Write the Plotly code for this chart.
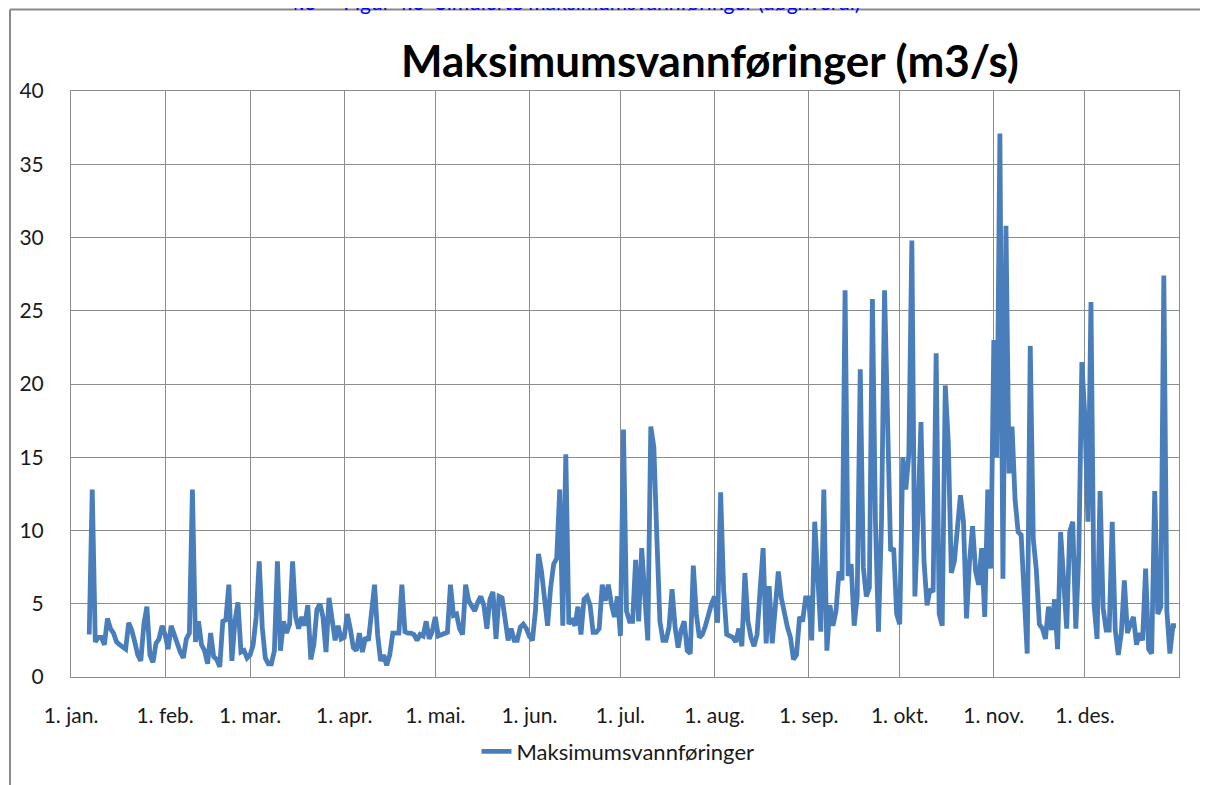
import pandas as pd
import plotly.graph_objects as go

# Daily maximum discharge (m3/s); series starts 7 Jan
jan = [2.9, 12.8, 2.4, 2.7, 2.7, 2.2, 4.0, 3.3, 3.0, 2.4, 2.2, 2.0, 1.9, 3.7, 3.2, 2.4,
       1.5, 1.1, 3.6, 4.8, 1.5, 1.0, 2.3, 2.6, 3.5]
feb = [2.9, 1.9, 3.5, 2.9, 2.1, 1.7, 1.3, 2.6, 3.0, 12.8, 2.4, 3.8, 2.2, 1.8, 0.9, 3.0,
       1.4, 1.2, 0.7, 3.8, 3.9, 6.3, 1.1, 3.8, 5.1, 1.7, 1.8, 1.3]
mar = [1.5, 2.2, 4.1, 7.9, 3.4, 1.3, 0.9, 0.9, 1.8, 7.9, 1.8, 3.8, 3.0, 3.6, 7.9, 4.1,
       3.3, 4.1, 3.5, 4.9, 1.2, 2.2, 4.6, 5.0, 4.1, 1.7, 5.4, 3.6, 2.5, 3.5, 2.6]
apr = [2.7, 4.3, 3.3, 2.0, 1.8, 3.0, 1.7, 2.7, 2.5, 4.5, 6.3, 2.9, 1.1, 1.5, 0.8, 1.5,
       3.0, 3.0, 3.0, 6.3, 3.1, 3.0, 3.0, 2.9, 2.5, 2.9, 2.8, 3.8, 2.6, 3.1]
mai = [4.1, 2.8, 2.9, 3.0, 3.05, 6.3, 4.2, 4.3, 3.3, 2.9, 6.3, 5.2, 4.9, 4.5, 5.1, 5.5,
       4.9, 3.3, 5.3, 5.8, 2.6, 5.5, 5.4, 4.1, 2.5, 3.3, 2.5, 2.5, 3.4, 3.6, 3.3]
jun = [2.8, 2.5, 4.5, 8.4, 7.2, 5.2, 3.5, 6.1, 7.7, 8.1, 12.8, 3.5, 15.2, 3.6, 4.0, 3.5,
       4.8, 2.9, 5.3, 5.5, 4.9, 3.05, 3.05, 3.3, 6.3, 5.2, 6.3, 5.0, 4.1, 5.5]
jul = [2.8, 16.9, 4.5, 3.8, 3.8, 8.0, 3.8, 8.8, 5.7, 2.5, 17.1, 15.7, 9.5, 3.8, 2.5, 2.5,
       3.4, 6.0, 3.4, 2.0, 3.2, 3.8, 1.8, 1.6, 7.6, 4.3, 2.7, 2.9, 3.5, 4.3, 5.0]
aug = [5.5, 3.7, 12.6, 5.9, 2.9, 2.8, 2.7, 2.4, 3.3, 2.1, 7.1, 3.8, 2.7, 2.1, 2.9, 5.9,
       8.8, 2.3, 6.2, 2.3, 4.5, 7.2, 5.4, 4.3, 3.4, 2.7, 1.2, 1.5, 4.1, 3.8, 5.4]
sep = [5.4, 2.5, 10.6, 6.1, 3.1, 12.8, 1.8, 4.9, 3.5, 4.5, 7.2, 6.6, 26.4, 6.9, 7.7, 3.5,
       5.5, 21.0, 7.5, 5.5, 6.1, 25.8, 10.6, 3.1, 10.6, 26.4, 15.6, 8.6, 8.8, 4.3]
okt = [3.6, 15.0, 12.8, 15.2, 29.8, 5.5, 11.0, 17.4, 7.9, 4.9, 6.0, 5.8, 22.1, 4.3, 3.5,
       19.9, 16.0, 7.1, 7.9, 10.2, 12.4, 10.6, 4.0, 7.9, 10.3, 7.2, 6.3, 8.8, 4.1, 12.8, 7.4]
nov = [23.0, 15.0, 37.1, 6.7, 30.8, 13.9, 17.1, 12.1, 9.9, 9.7, 5.6, 1.6, 22.6, 9.4, 7.3,
       3.6, 3.3, 2.6, 4.8, 3.2, 5.3, 1.9, 9.9, 6.9, 3.3, 9.9, 10.6, 3.3, 8.4, 21.5]
des = [17.7, 10.6, 25.6, 5.0, 2.6, 12.7, 4.7, 3.2, 3.2, 10.6, 3.2, 1.5, 3.0, 6.6, 3.0,
       3.6, 4.1, 2.2, 3.0, 2.5, 7.4, 1.9, 1.6, 12.7, 4.3, 4.8, 27.4, 4.5, 1.6, 3.5, 3.5]

month_series = [("2023-01-07", jan), ("2023-02-01", feb), ("2023-03-01", mar),
                ("2023-04-01", apr), ("2023-05-01", mai), ("2023-06-01", jun),
                ("2023-07-01", jul), ("2023-08-01", aug), ("2023-09-01", sep),
                ("2023-10-01", okt), ("2023-11-01", nov), ("2023-12-01", des)]

tick_dates = ["2023-01-01", "2023-02-01", "2023-03-01", "2023-04-01", "2023-05-01",
              "2023-06-01", "2023-07-01", "2023-08-01", "2023-09-01", "2023-10-01",
              "2023-11-01", "2023-12-01", "2024-01-01"]
tick_labels = ["1. jan.", "1. feb.", "1. mar.", "1. apr.", "1. mai.", "1. jun.",
               "1. jul.", "1. aug.", "1. sep.", "1. okt.", "1. nov.", "1. des.", ""]

dates, values = [], []
for start, vals in month_series:
    dates.extend(pd.date_range(start, periods=len(vals), freq="D"))
    values.extend(vals)

FONT = "Lato"
GRID = "#8c8c8c"

# page has an 8 px body margin, so the figure is placed at (8, 8)
W, H = 1200, 777
L, T, PW, PH = 63, 83, 1108, 589

fig = go.Figure()
fig.add_trace(go.Scatter(
    x=dates, y=values, mode="lines", name="Maksimumsvannføringer",
    line=dict(color="#4A7EBB", width=4.8),
))

fig.update_layout(
    width=W, height=H,
    margin=dict(l=L, r=W - L - PW, t=T, b=H - T - PH),
    paper_bgcolor="white", plot_bgcolor="white",
    font=dict(family=FONT, color="#1a1a1a"),
    title=dict(text="<b>Maksimumsvannføringer (m3/s)</b>",
               font=dict(family=FONT, size=44, color="#000000"),
               x=(702 - L) / PW, xanchor="center", xref="paper",
               y=1 - 54 / H, yanchor="middle"),
    showlegend=True,
    legend=dict(orientation="h", x=(610 - L) / PW, xanchor="center",
                y=(T + PH - 747) / PH, yanchor="middle",
                font=dict(family=FONT, size=22, color="#1a1a1a")),
    xaxis=dict(type="date", range=["2023-01-01", "2024-01-01"],
               tickmode="array", tickvals=tick_dates, ticktext=tick_labels,
               showgrid=True, gridcolor=GRID, gridwidth=1,
               showline=True, linecolor=GRID, linewidth=1, mirror=True,
               ticks="", ticklabelstandoff=20,
               tickfont=dict(family=FONT, size=21, color="#1a1a1a"), zeroline=False),
    yaxis=dict(range=[0, 40], dtick=5, showgrid=True, gridcolor=GRID, gridwidth=1,
               showline=True, linecolor=GRID, linewidth=1, mirror=True,
               ticks="", ticklabelstandoff=22,
               tickfont=dict(family=FONT, size=21, color="#1a1a1a"), zeroline=False),
)

# outer chart frame (partially visible in the screenshot)
fx0 = (2 - L) / PW
fy_top = (T + PH - 1) / PH
fy_bot = (T + PH - 790) / PH
fig.add_shape(type="line", xref="paper", yref="paper", x0=fx0, x1=fx0,
              y0=fy_bot, y1=fy_top, line=dict(color="#8a8a8a", width=2))
fig.add_shape(type="line", xref="paper", yref="paper", x0=fx0, x1=1.05,
              y0=fy_top, y1=fy_top, line=dict(color="#8a8a8a", width=2))

# document caption above the chart (cut off at the top edge, as in the screenshot)
fig.add_annotation(text="4.3     Figur 4.3  Simulerte maksimumsvannføringer (døgnverdi)",
                   xref="paper", yref="paper", x=(854 - L) / PW, xanchor="right",
                   y=(T + PH + 7) / PH, yanchor="middle", showarrow=False,
                   font=dict(family=FONT, size=21, color="#0000ff"))

fig.write_html("out.html")
